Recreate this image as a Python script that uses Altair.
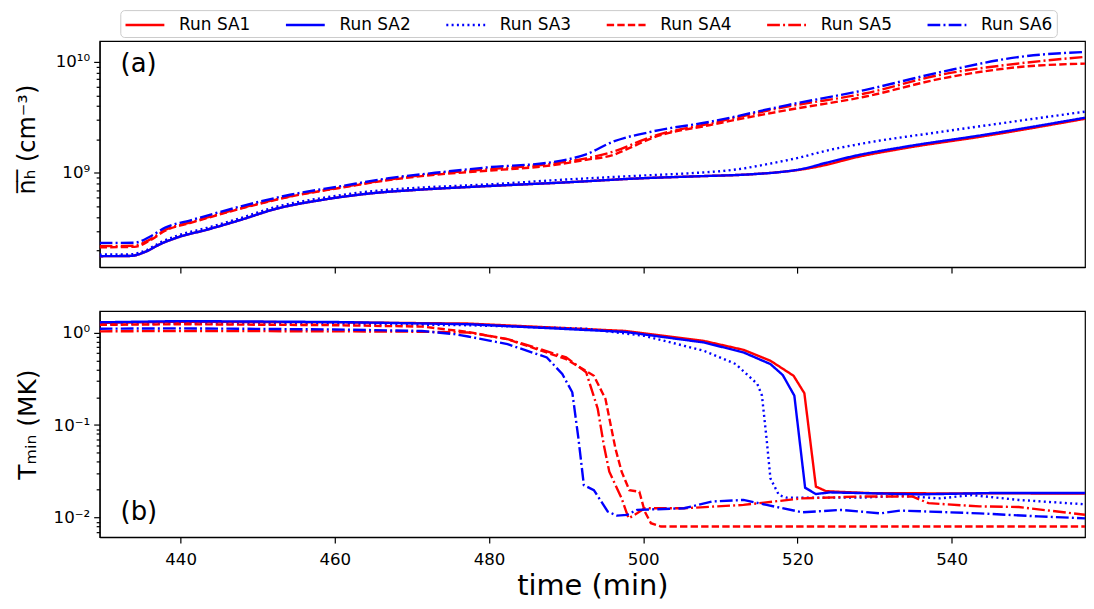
import altair as alt
import pandas as pd

series = ["Run SA1", "Run SA2", "Run SA3", "Run SA4", "Run SA5", "Run SA6"]

# ---- panel (a): mean hydrogen density (cm^-3) ----
a_t_sa1 = [429.5, 433.5, 435.5, 437.5, 439.5, 443.5, 448, 452, 458.5, 465, 471, 479, 490, 500, 507, 514, 518, 520.5, 523.5, 527, 534, 544, 557.3]
a_v_sa1 = [1.77e8, 1.78e8, 1.95e8, 2.3e8, 2.6e8, 3.08e8, 3.8e8, 4.66e8, 5.72e8, 6.56e8, 7.04e8, 7.54e8, 8.2e8, 8.94e8, 9.3e8, 9.7e8, 1.02e9, 1.07e9, 1.17e9, 1.35e9, 1.67e9, 2.13e9, 3.07e9]
a_t_sa2 = [429.5, 433.5, 435.5, 437.5, 439.5, 443.5, 448, 452, 458.5, 465, 471, 479, 490, 500, 507, 514, 518, 520.5, 523.5, 527, 534, 544, 557.3]
a_v_sa2 = [1.77e8, 1.78e8, 1.95e8, 2.3e8, 2.6e8, 3.08e8, 3.8e8, 4.66e8, 5.72e8, 6.56e8, 7.04e8, 7.54e8, 8.2e8, 8.94e8, 9.3e8, 9.7e8, 1.02e9, 1.08e9, 1.22e9, 1.40e9, 1.72e9, 2.19e9, 3.14e9]
a_t_sa3 = [429.5, 433.5, 435.5, 437.5, 439.5, 443.5, 448, 452, 458.5, 465, 471, 479, 490, 500, 507, 512, 516.7, 520.2, 523.7, 528.7, 538.8, 557.3]
a_v_sa3 = [1.83e8, 1.84e8, 2.0e8, 2.38e8, 2.7e8, 3.2e8, 3.95e8, 4.85e8, 5.95e8, 6.85e8, 7.35e8, 7.8e8, 8.7e8, 9.46e8, 1.0e9, 1.07e9, 1.22e9, 1.37e9, 1.58e9, 1.85e9, 2.35e9, 3.56e9]
a_t_sa4 = [429.5, 434, 436, 438, 441.4, 447.8, 454.2, 460.6, 467, 473, 478.6, 488.6, 492.6, 496.1, 498.6, 501.1, 508.7, 518.7, 528.7, 538.7, 548.8, 557.3]
a_v_sa4 = [2.13e8, 2.15e8, 2.45e8, 3.0e8, 3.55e8, 4.75e8, 6.1e8, 7.3e8, 8.6e8, 9.6e8, 1.03e9, 1.18e9, 1.31e9, 1.45e9, 1.72e9, 2.05e9, 2.70e9, 3.68e9, 4.85e9, 7.08e9, 9.0e9, 9.66e9]
a_t_sa5 = [429.5, 434, 436, 438, 441.4, 447.8, 454.2, 460.6, 467, 473, 478.6, 488.6, 492.6, 496.1, 501.1, 508.7, 518.7, 528.7, 538.7, 548.8, 557.3]
a_v_sa5 = [2.18e8, 2.2e8, 2.5e8, 3.05e8, 3.6e8, 4.8e8, 6.15e8, 7.35e8, 8.7e8, 9.8e8, 1.06e9, 1.22e9, 1.35e9, 1.55e9, 2.12e9, 2.79e9, 3.95e9, 5.19e9, 7.69e9, 9.7e9, 1.11e10]
a_t_sa6 = [429.5, 434, 436, 438, 441.4, 447.8, 454.2, 460.6, 467, 473, 479.8, 488.6, 492.6, 496.1, 501.1, 508.7, 518.7, 528.7, 538.7, 548.8, 557.3]
a_v_sa6 = [2.33e8, 2.34e8, 2.65e8, 3.2e8, 3.75e8, 4.98e8, 6.34e8, 7.54e8, 8.94e8, 1.0e9, 1.12e9, 1.26e9, 1.47e9, 1.91e9, 2.35e9, 2.89e9, 4.08e9, 5.57e9, 8.13e9, 1.11e10, 1.23e10]

# ---- panel (b): minimum temperature (MK) ----
b_t_sa1 = [429.5, 440, 460, 477.3, 497.7, 507.9, 513, 516.5, 519.5, 520.9, 522.4, 523.7, 525.2, 530, 557.3]
b_v_sa1 = [1.27, 1.31, 1.29, 1.25, 1.04, 0.81, 0.65, 0.495, 0.341, 0.221, 0.0216, 0.0193, 0.019, 0.0183, 0.0182]
b_t_sa2 = [429.5, 440, 460, 477.3, 497.7, 507.9, 513, 516.5, 518.1, 519.6, 521, 522.4, 524.2, 535.9, 545, 557.3]
b_v_sa2 = [1.29, 1.33, 1.30, 1.23, 1.015, 0.78, 0.61, 0.456, 0.347, 0.208, 0.021, 0.01795, 0.0187, 0.0178, 0.0184, 0.0184]
b_t_sa3 = [429.5, 440, 460, 477.3, 492.6, 500.2, 507.9, 512, 514.8, 515.4, 516, 516.5, 517.6, 518.6, 523.2, 528.3, 533.4, 538.5, 542.6, 548.7, 557.3]
b_v_sa3 = [1.22, 1.25, 1.24, 1.20, 1.10, 0.919, 0.634, 0.456, 0.278, 0.208, 0.0712, 0.0265, 0.0175, 0.0164, 0.0164, 0.0164, 0.0172, 0.0161, 0.0175, 0.0155, 0.0139]
b_t_sa4 = [429.5, 440, 460, 471.3, 477.3, 482.4, 490, 493.6, 495.1, 496.4, 497.2, 498.2, 499.5, 500.2, 501, 502.3, 557.3]
b_v_sa4 = [1.21, 1.23, 1.20, 1.16, 1.015, 0.847, 0.516, 0.341, 0.192, 0.0556, 0.0313, 0.0198, 0.019, 0.0116, 0.00869, 0.0080, 0.0080]
b_t_sa5 = [429.5, 440, 460, 471.3, 477.3, 482.4, 490, 492.6, 494.1, 494.9, 495.6, 497.2, 498.1, 499.2, 500.2, 505.3, 513, 520.6, 528.3, 534.9, 537, 543.6, 548.7, 557.3]
b_v_sa5 = [1.03, 1.04, 1.03, 1.02, 1.0, 0.85, 0.54, 0.372, 0.150, 0.0603, 0.0313, 0.0161, 0.0098, 0.0111, 0.0126, 0.0126, 0.0137, 0.0161, 0.0169, 0.0169, 0.0143, 0.0132, 0.0130, 0.0107]
b_t_sa6 = [429.5, 440, 460, 471.3, 475.5, 477.3, 482.4, 487.5, 489.5, 490.8, 491.6, 492.3, 493.6, 495.4, 496.6, 497.9, 499.2, 505.3, 508.9, 513, 516, 520.6, 525.7, 530.8, 533.4, 543.6, 551.2, 557.3]
b_v_sa6 = [1.10, 1.11, 1.08, 1.04, 0.96, 0.906, 0.749, 0.538, 0.356, 0.226, 0.0712, 0.0224, 0.0198, 0.0116, 0.0105, 0.0107, 0.0121, 0.0126, 0.0149, 0.0155, 0.0137, 0.0114, 0.0121, 0.0111, 0.0119, 0.0111, 0.0103, 0.0098]

x_ticks = [440, 460, 480, 500, 520, 540]
a_ticks = [2e8, 3e8, 4e8, 5e8, 6e8, 7e8, 8e8, 9e8, 1e9, 2e9, 3e9, 4e9, 5e9, 6e9, 7e9, 8e9, 9e9, 1e10]
b_ticks = [7e-3, 8e-3, 9e-3, 1e-2, 2e-2, 3e-2, 4e-2, 5e-2, 6e-2, 7e-2, 8e-2, 9e-2, 0.1, 0.2, 0.3, 0.4, 0.5, 0.6, 0.7, 0.8, 0.9, 1.0]

# ---- styles ----
colors = ["#ff0000", "#0000ff", "#0000ff", "#ff0000", "#ff0000", "#0000ff"]
dashes = [[1, 0], [1, 0], [2, 3.3], [7.4, 3.2], [12.8, 3.2, 2, 3.2], [12.8, 3.2, 2, 3.2]]
FONT = "DejaVu Sans"


def long_frame(ts, vs):
    rows = []
    for name, t, v in zip(series, ts, vs):
        for ti, vi in zip(t, v):
            rows.append({"t": ti, "v": vi, "series": name})
    return pd.DataFrame(rows)


df_a = long_frame([a_t_sa1, a_t_sa2, a_t_sa3, a_t_sa4, a_t_sa5, a_t_sa6],
                  [a_v_sa1, a_v_sa2, a_v_sa3, a_v_sa4, a_v_sa5, a_v_sa6])
df_b = long_frame([b_t_sa1, b_t_sa2, b_t_sa3, b_t_sa4, b_t_sa5, b_t_sa6],
                  [b_v_sa1, b_v_sa2, b_v_sa3, b_v_sa4, b_v_sa5, b_v_sa6])

major = "abs(log(datum.value)/LN10 - round(log(datum.value)/LN10)) < 0.001"
exp_label = ("round(log(datum.value)/LN10) == 10 ? '10¹⁰' : "
             "round(log(datum.value)/LN10) == 9 ? '10⁹' : "
             "round(log(datum.value)/LN10) == 0 ? '10⁰' : "
             "round(log(datum.value)/LN10) == -1 ? '10⁻¹' : "
             "round(log(datum.value)/LN10) == -2 ? '10⁻²' : ''")
label_expr = f"({major}) ? ({exp_label}) : ''"
tick_size = {"condition": {"test": major, "value": 6}, "value": 3.5}

xscale = alt.Scale(domain=[429.5, 557.3], nice=False, zero=False)
legend = alt.Legend(title=None, orient="none", legendX=20.7, legendY=-31, direction="horizontal",
                    columns=6, symbolType="M-1,0H3", symbolSize=380, symbolStrokeWidth=2.5,
                    labelFontSize=17, labelFont=FONT, labelColor="black", columnPadding=30,
                    labelOffset=33, strokeColor="#cccccc", cornerRadius=4, padding=4,
                    fillColor="white")
color = alt.Color("series:N", scale=alt.Scale(domain=series, range=colors), legend=legend)
dash = alt.StrokeDash("series:N", scale=alt.Scale(domain=series, range=dashes), legend=legend)

W, H = 989, 227

top_lines = alt.Chart(df_a).mark_line(strokeWidth=2.4, clip=True, interpolate="monotone").encode(
    x=alt.X("t:Q", scale=xscale, axis=alt.Axis(values=x_ticks, labels=False, title=None, tickSize=6)),
    y=alt.Y("v:Q", scale=alt.Scale(type="log", domain=[1.41e8, 1.545e10], nice=False),
            axis=alt.Axis(values=a_ticks, labelExpr=label_expr, tickSize=tick_size,
                          title="n̅ₕ̅ (cm⁻³)", titleFontSize=24, titleX=-72, titleY=H / 2 - 15,
                          titleAlign="center", titleBaseline="middle")),
    color=color, strokeDash=dash,
)
top_tag = alt.Chart(pd.DataFrame({"tag": ["(a)"]})).mark_text(
    fontSize=26, font=FONT, align="left", baseline="middle", color="black").encode(
    text="tag:N", x=alt.value(21), y=alt.value(23))
top = alt.layer(top_lines, top_tag).properties(width=W, height=H)

bot_lines = alt.Chart(df_b).mark_line(strokeWidth=2.4, clip=True).encode(
    x=alt.X("t:Q", scale=xscale, axis=alt.Axis(values=x_ticks, title="time (min)", titleFontSize=29,
                                              tickSize=6, labelPadding=8, titlePadding=4, format="d")),
    y=alt.Y("v:Q", scale=alt.Scale(type="log", domain=[0.00614, 1.71], nice=False),
            axis=alt.Axis(values=b_ticks, labelExpr=label_expr, tickSize=tick_size,
                          title="Tₘᵢₙ (MK)", titleFontSize=25, titleX=-72, titleY=H / 2,
                          titleAlign="center", titleBaseline="middle")),
    color=color, strokeDash=dash,
)
bot_tag = alt.Chart(pd.DataFrame({"tag": ["(b)"]})).mark_text(
    fontSize=26, font=FONT, align="left", baseline="middle", color="black").encode(
    text="tag:N", x=alt.value(21), y=alt.value(202))
bot = alt.layer(bot_lines, bot_tag).properties(width=W, height=H)

chart = alt.vconcat(top, bot, spacing=35).properties(
    padding={"left": 7, "top": 0, "right": 0, "bottom": 0}
).configure_view(stroke="black", strokeWidth=1.2).configure_axis(
    domainColor="black", tickColor="black", labelColor="black", titleColor="black",
    grid=False, labelFont=FONT, titleFont=FONT, labelFontSize=16.7, titleFontWeight="normal",
    domainWidth=1.2, tickWidth=1.2, labelPadding=4
)

chart.save("out.html", embed_options={"renderer": "svg", "actions": False})
